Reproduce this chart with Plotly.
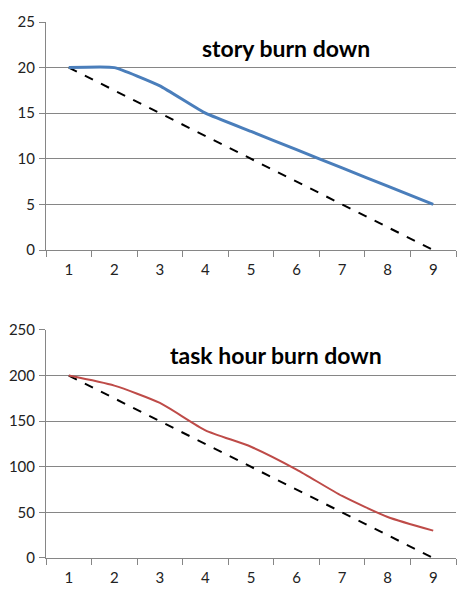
import plotly.graph_objects as go
from plotly.subplots import make_subplots

days = ["1", "2", "3", "4", "5", "6", "7", "8", "9"]
story_actual = [20, 20, 18, 15, 13, 11, 9, 7, 5]
story_ideal = [20, 17.5, 15, 12.5, 10, 7.5, 5, 2.5, 0]
task_actual = [200, 189, 170, 140, 122, 97, 68, 45, 30]
task_ideal = [200, 175, 150, 125, 100, 75, 50, 25, 0]

fig = make_subplots(rows=2, cols=1, vertical_spacing=0.149)

fig.add_trace(go.Scatter(x=days, y=story_ideal, mode="lines",
                         line=dict(color="black", width=2, dash="dash")), row=1, col=1)
fig.add_trace(go.Scatter(x=days, y=story_actual, mode="lines",
                         line=dict(color="#4A7EBB", width=3, shape="spline", smoothing=0.4)), row=1, col=1)
fig.add_trace(go.Scatter(x=days, y=task_ideal, mode="lines",
                         line=dict(color="black", width=2, dash="dash")), row=2, col=1)
fig.add_trace(go.Scatter(x=days, y=task_actual, mode="lines",
                         line=dict(color="#BE4B48", width=2, shape="spline", smoothing=0.6)), row=2, col=1)

axis_font = dict(family="Lato, Noto Sans", size=15, color="#222")

fig.update_xaxes(type="category", range=[-0.5, 8.5], tickson="boundaries", ticks="outside",
                 ticklen=6, tickcolor="#868686", showline=True, linecolor="#868686", linewidth=1,
                 showgrid=False, zeroline=False, tickfont=axis_font, ticklabelstandoff=6,
                 automargin=False)
fig.update_yaxes(ticks="outside", ticklen=6, tickcolor="#868686", showline=True,
                 linecolor="#868686", linewidth=1, gridcolor="#868686", gridwidth=1,
                 zeroline=False, tickfont=axis_font, ticklabelstandoff=1, automargin=False)
fig.update_yaxes(range=[0, 25], dtick=5, row=1, col=1)
fig.update_yaxes(range=[0, 250], dtick=50, row=2, col=1)
fig.update_layout(yaxis=dict(domain=[0.5746, 1]), yaxis2=dict(domain=[0, 0.4254]))

title_font = dict(family="Lato, Noto Sans", size=23, color="black", weight="bold")
fig.add_annotation(text="story burn down", xref="x domain", yref="y", x=0.585, y=22.2,
                   showarrow=False, font=title_font)
fig.add_annotation(text="task hour burn down", xref="x2 domain", yref="y2", x=0.56, y=222.6,
                   showarrow=False, font=title_font)

fig.update_layout(width=473, height=603, showlegend=False,
                  margin=dict(l=38, r=25, t=14, b=53),
                  plot_bgcolor="white", paper_bgcolor="white")

fig.write_html("out.html")
